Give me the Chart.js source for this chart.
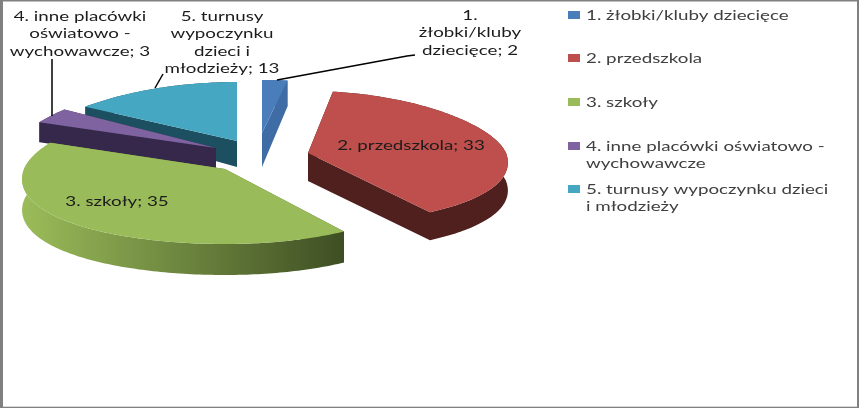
<!DOCTYPE html>
<html lang="pl"><head><meta charset="utf-8">
<style>html,body{margin:0;padding:0;background:#fff}canvas{display:block}</style>
<script src="https://cdn.jsdelivr.net/npm/chart.js@4"></script></head>
<body><canvas id="c" width="859" height="408"></canvas>
<script>
const categories = ['1. żłobki/kluby dziecięce','2. przedszkola','3. szkoły','4. inne placówki oświatowo - wychowawcze','5. turnusy wypoczynku dzieci i młodzieży'];
const values = [2,33,35,3,13];
const topColors = ['#4a7ebb','#be4f4c','#9abb59','#7f63a1','#46a7c2'];
const sideColors = ['#3f6ca4','#4f201d','#3e4e23','#35284a','#1c4f60'];
const legendLines = [['1. żłobki/kluby dziecięce'],['2. przedszkola'],['3. szkoły'],['4. inne placówki oświatowo -','wychowawcze'],['5. turnusy wypoczynku dzieci','i młodzieży']];
const labelLines = [['1.','żłobki/kluby','dziecięce; 2'],['2. przedszkola; 33'],['3. szkoły; 35'],['4. inne placówki','oświatowo -','wychowawcze; 3'],['5. turnusy','wypoczynku','dzieci i','młodzieży; 13']];

// view geometry of the exploded 3D pie (pixels, one entry per slice)
const apex = [[262,133],[308,153],[225,169],[216,148],[237,141]];
const ryFar = [53,62,67,66,59], ryNear = [53,71,75,66,59];
const depth = [[34,.24],[28,0],[31,0],[20,0],[26,.53]];
const rxRight = [203,198,193,203,203], rxLeft = [203,203,201,203,203];
const PERSP = .14;
const drawOrder = [0,4,3,2,1];
const labelPos = [[470,15],[411,145],[117,201],[80,16],[222,16]];
const leaders = [[[415,55],[407,56],[277,80]],null,null,[[52,59],[52,116]],[[163,74],[155,88]]];
const legendX = 586, legendSwatchX = 568, legendRows = [15,58,102,146,189];
const TEXT_STRETCH = 1.34;

function txt(ctx,s,x,y,align,size,color){
  ctx.save();ctx.translate(x,y);ctx.scale(TEXT_STRETCH,1);
  ctx.font=size+'px Lato';ctx.fillStyle=color;ctx.textAlign=align;ctx.textBaseline='middle';
  ctx.fillText(s,0,0);ctx.restore();
}
function poly(ctx,pts){ctx.beginPath();pts.forEach((p,k)=>k?ctx.lineTo(p[0],p[1]):ctx.moveTo(p[0],p[1]));ctx.closePath();ctx.fill();}
const pie3d = {
  id:'pie3d',
  beforeDraw(chart){
    const c=chart.ctx;c.save();c.fillStyle='#fff';c.fillRect(0,0,859,408);c.restore();
  },
  beforeDatasetDraw(chart){
    const ctx=chart.ctx, arcs=chart.getDatasetMeta(0).data;
    ctx.save();ctx.filter='blur(0.4px)';
    for(const i of drawOrder){
      const a=arcs[i],[ax,ay]=apex[i],[t,m]=depth[i];
      const pt=(th,r)=>{const u=r*Math.sin(th),v=r*Math.cos(th);
        return [ax+(u>0?rxRight[i]:rxLeft[i])*u*(1-PERSP*v), ay-v*(v>0?ryFar[i]:ryNear[i]), t*(1-m*v)];};
      const s=a.startAngle+Math.PI/2,e=a.endAngle+Math.PI/2,n=Math.ceil((e-s)*180/Math.PI);
      const rim=[];
      for(let k=0;k<=n;k++)rim.push(pt(s+(e-s)*k/n,1));
      const c0=pt(0,0),down=p=>[p[0],p[1]+p[2]];
      let side=sideColors[i];
      if(i===2){side=ctx.createLinearGradient(25,0,344,0);side.addColorStop(0,topColors[2]);side.addColorStop(1,sideColors[2]);}
      ctx.fillStyle=side;
      poly(ctx,[c0,rim[0],down(rim[0]),down(c0)]);
      poly(ctx,[c0,rim[n],down(rim[n]),down(c0)]);
      poly(ctx,rim.concat(rim.slice().reverse().map(down)));
      ctx.fillStyle=topColors[i];
      poly(ctx,[c0].concat(rim));
    }
    ctx.strokeStyle='#000';ctx.lineWidth=1.5;
    leaders.forEach(l=>{if(!l)return;ctx.beginPath();l.forEach((p,k)=>k?ctx.lineTo(p[0],p[1]):ctx.moveTo(p[0],p[1]));ctx.stroke();});
    labelLines.forEach((ls,i)=>{ls.forEach((s,j)=>txt(ctx,s,labelPos[i][0],labelPos[i][1]+j*17.5,'center',14,'#1c1c1c'));});
    legendLines.forEach((ls,i)=>{
      ctx.fillStyle=topColors[i];ctx.fillRect(legendSwatchX,legendRows[i]-4,12,8);
      ls.forEach((s,j)=>txt(ctx,s,legendX,legendRows[i]+j*17.5,'left',14,'#404040'));
    });
    ctx.filter='none';
    ctx.fillStyle='#808080';
    ctx.fillRect(0,0,859,1.5);ctx.fillRect(0,406.7,859,1.3);ctx.fillRect(0,0,3,408);ctx.fillRect(857,0,2,408);
    ctx.restore();
    return false;
  }
};
new Chart(document.getElementById('c'),{
  type:'pie',
  data:{labels:categories,datasets:[{data:values,backgroundColor:topColors,borderWidth:0}]},
  options:{responsive:false,animation:false,devicePixelRatio:1,
    plugins:{legend:{display:false},tooltip:{enabled:false}}},
  plugins:[pie3d]
});
</script></body></html>
